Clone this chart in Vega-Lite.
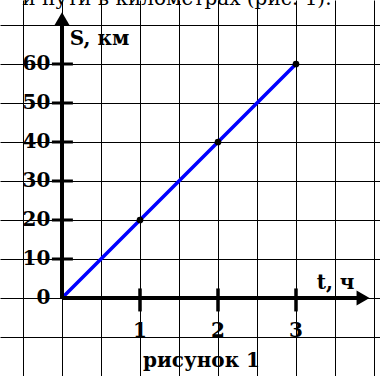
{
  "$schema": "https://vega.github.io/schema/vega-lite/v6.json",
  "width": 380,
  "height": 376,
  "autosize": {"type": "none"},
  "padding": 0,
  "background": "white",
  "config": {"view": {"stroke": null}},
  "datasets": {
    "line": [{"t": 0, "S": 0}, {"t": 1, "S": 20}, {"t": 2, "S": 40}, {"t": 3, "S": 60}],
    "xlab": [{"t": 1, "label": "1"}, {"t": 2, "label": "2"}, {"t": 3, "label": "3"}],
    "ylab": [{"S": 0, "label": "0"}, {"S": 10, "label": "10"}, {"S": 20, "label": "20"}, {"S": 30, "label": "30"}, {"S": 40, "label": "40"}, {"S": 50, "label": "50"}, {"S": 60, "label": "60"}],
    "axisTitles": [{"t": 0.1, "S": 64.9, "label": "S, км"}, {"t": 3.265, "S": 2.2, "label": "t, ч"}],
    "caption": [{"t": 1.788, "S": -17.7, "label": "рисунок 1"}],
    "header": [{"t": -0.51, "S": 75.1, "label": "и пути в километрах (рис. 1)."}]
  },
  "layer": [
    {
      "data": {"name": "line"},
      "mark": {"type": "line", "color": "#0000ff", "strokeWidth": 3.5},
      "encoding": {
        "x": {
          "field": "t", "type": "quantitative",
          "scale": {"domain": [-0.795, 4.077], "nice": false, "zero": false},
          "axis": {"values": [-0.5, 0, 0.5, 1, 1.5, 2, 2.5, 3, 3.5, 4], "grid": true, "labels": false, "ticks": false, "domain": false, "title": null, "gridColor": "#000000", "gridWidth": 1, "gridOpacity": 1}
        },
        "y": {
          "field": "S", "type": "quantitative",
          "scale": {"domain": [-20, 76.41], "nice": false, "zero": false},
          "axis": {"values": [-10, 0, 10, 20, 30, 40, 50, 60, 70], "grid": true, "labels": false, "ticks": false, "domain": false, "title": null, "gridColor": "#000000", "gridWidth": 1, "gridOpacity": 1}
        }
      }
    },
    {
      "data": {"values": [{}]},
      "mark": {"type": "rule", "color": "#000000", "strokeWidth": 4},
      "encoding": {"x": {"datum": 0}, "x2": {"datum": 3.85}, "y": {"datum": 0}}
    },
    {
      "data": {"values": [{}]},
      "mark": {"type": "rule", "color": "#000000", "strokeWidth": 4},
      "encoding": {"x": {"datum": 0}, "y": {"datum": 0}, "y2": {"datum": 71}}
    },
    {
      "data": {"values": [{}]},
      "mark": {"type": "point", "shape": "triangle-up", "filled": true, "color": "#000000", "opacity": 1, "size": 256},
      "encoding": {"x": {"datum": 0}, "y": {"datum": 71.5}}
    },
    {
      "data": {"values": [{}]},
      "mark": {"type": "point", "shape": "triangle-right", "filled": true, "color": "#000000", "opacity": 1, "size": 225},
      "encoding": {"x": {"datum": 3.86}, "y": {"datum": 0}}
    },
    {
      "data": {"name": "xlab"},
      "mark": {"type": "tick", "orient": "vertical", "color": "#000000", "size": 23, "thickness": 3.5, "opacity": 1},
      "encoding": {"x": {"field": "t", "type": "quantitative"}, "y": {"datum": -0.5}}
    },
    {
      "data": {"name": "ylab"},
      "transform": [{"filter": "datum.S > 0"}],
      "mark": {"type": "tick", "orient": "horizontal", "color": "#000000", "size": 21, "thickness": 3, "opacity": 1},
      "encoding": {"x": {"datum": 0.005}, "y": {"field": "S", "type": "quantitative"}}
    },
    {
      "data": {"name": "line"},
      "transform": [{"filter": "datum.t > 0"}],
      "mark": {"type": "point", "filled": true, "color": "#000000", "opacity": 1, "size": 45},
      "encoding": {"x": {"field": "t", "type": "quantitative"}, "y": {"field": "S", "type": "quantitative"}}
    },
    {
      "data": {"name": "ylab"},
      "mark": {"type": "text", "font": "DejaVu Serif", "fontWeight": "bold", "fontSize": 20, "align": "right", "baseline": "middle", "color": "#000000"},
      "encoding": {"x": {"datum": -0.15}, "y": {"field": "S", "type": "quantitative"}, "text": {"field": "label"}}
    },
    {
      "data": {"name": "xlab"},
      "mark": {"type": "text", "font": "DejaVu Serif", "fontWeight": "bold", "fontSize": 20, "align": "center", "baseline": "alphabetic", "color": "#000000"},
      "encoding": {"x": {"field": "t", "type": "quantitative"}, "y": {"datum": -10}, "text": {"field": "label"}}
    },
    {
      "data": {"name": "axisTitles"},
      "mark": {"type": "text", "font": "DejaVu Serif", "fontWeight": "bold", "fontSize": 20, "align": "left", "baseline": "alphabetic", "color": "#000000"},
      "encoding": {"x": {"field": "t", "type": "quantitative"}, "y": {"field": "S", "type": "quantitative"}, "text": {"field": "label"}}
    },
    {
      "data": {"name": "caption"},
      "mark": {"type": "text", "font": "DejaVu Serif", "fontWeight": "bold", "fontSize": 20, "align": "center", "baseline": "alphabetic", "color": "#000000"},
      "encoding": {"x": {"field": "t", "type": "quantitative"}, "y": {"field": "S", "type": "quantitative"}, "text": {"field": "label"}}
    },
    {
      "data": {"name": "header"},
      "mark": {"type": "text", "font": "DejaVu Serif", "fontSize": 20, "align": "left", "baseline": "alphabetic", "color": "#000000"},
      "encoding": {"x": {"field": "t", "type": "quantitative"}, "y": {"field": "S", "type": "quantitative"}, "text": {"field": "label"}}
    }
  ]
}
